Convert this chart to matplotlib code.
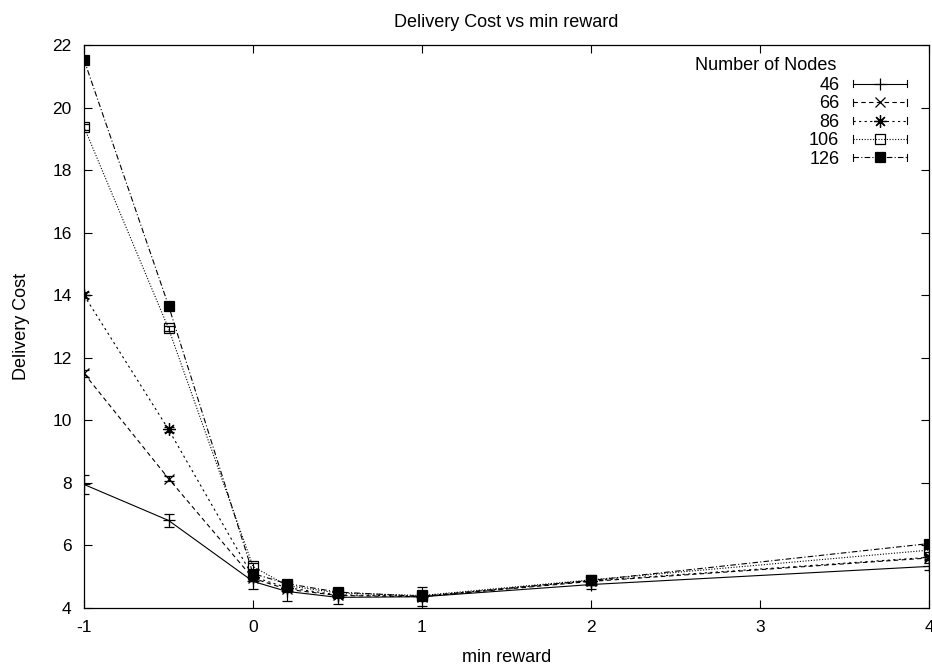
import numpy as np
import matplotlib.pyplot as plt
from matplotlib.lines import Line2D
from matplotlib.legend_handler import HandlerLine2D

plt.rcParams['font.family'] = ['Liberation Sans', 'DejaVu Sans']
plt.rcParams['axes.unicode_minus'] = False

min_reward = [-1, -0.5, 0, 0.2, 0.5, 1, 2, 4]
nodes = ['46', '66', '86', '106', '126']

cost_46 = [7.95, 6.8, 4.85, 4.53, 4.34, 4.36, 4.75, 5.33]
cost_66 = [11.5, 8.14, 4.95, 4.6, 4.4, 4.36, 4.85, 5.6]
cost_86 = [14.0, 9.71, 5.0, 4.65, 4.42, 4.38, 4.87, 5.62]
cost_106 = [19.38, 12.94, 5.33, 4.72, 4.48, 4.4, 4.9, 5.85]
cost_126 = [21.53, 13.67, 5.1, 4.78, 4.51, 4.37, 4.88, 6.06]

err_46 = [0.3, 0.2, 0.25, 0.3, 0.22, 0.3, 0.15, 0.1]
err_66 = [0.1, 0.08, 0.1, 0.08, 0.06, 0.06, 0.06, 0.06]
err_86 = [0.1, 0.08, 0.1, 0.08, 0.06, 0.06, 0.06, 0.06]
err_106 = [0.1, 0.08, 0.1, 0.08, 0.06, 0.06, 0.06, 0.06]
err_126 = [0.1, 0.08, 0.1, 0.08, 0.06, 0.06, 0.06, 0.06]

costs = [cost_46, cost_66, cost_86, cost_106, cost_126]
errs = [err_46, err_66, err_86, err_106, err_126]

styles = [
    dict(ls='-', marker='+', ms=9, mfc='black'),
    dict(ls=(0, (4, 3)), marker='x', ms=7, mfc='black'),
    dict(ls=(0, (2, 3)), marker=(8, 2, 0), ms=9, mfc='black'),
    dict(ls=(0, (1, 1.5)), marker='s', ms=6.5, mfc='none'),
    dict(ls=(0, (5, 2, 1, 2)), marker='s', ms=7, mfc='black'),
]


class CappedLine(HandlerLine2D):
    # legend sample with small end caps, like an errorbar key
    def create_artists(self, legend, orig_handle, xdescent, ydescent,
                       width, height, fontsize, trans):
        artists = list(super().create_artists(legend, orig_handle, xdescent,
                                              ydescent, width, height,
                                              fontsize, trans))
        yc = (height - ydescent) / 2
        h = 0.28 * height
        for x in (-xdescent, -xdescent + width):
            artists.append(Line2D([x, x], [yc - h, yc + h], color='black',
                                  lw=0.8, transform=trans))
        return artists


fig = plt.figure(figsize=(9.32, 6.69), dpi=100)
ax = fig.add_axes([84 / 932, 1 - 608 / 669, 845 / 932, 563 / 669])

handles = []
for lab, y, e, st in zip(nodes, costs, errs, styles):
    ax.errorbar(min_reward, y, yerr=e, color='black', lw=0.8, elinewidth=0.8,
                capsize=3.5, capthick=0.8, mew=0.9, **st)
    handles.append(Line2D([], [], color='black', lw=0.8, mew=0.9, label=lab, **st))

ax.set_xlim(-1, 4)
ax.set_ylim(4, 22)
ax.set_xticks([-1, 0, 1, 2, 3, 4])
ax.set_yticks(np.arange(4, 23, 2))
ax.tick_params(direction='in', top=True, right=True, length=6, width=0.8,
               labelsize=12.5, pad=9)
for s in ax.spines.values():
    s.set_linewidth(0.9)

ax.set_title('Delivery Cost vs min reward', fontsize=13, pad=13)
ax.set_xlabel('min reward', fontsize=13, labelpad=10)
ax.set_ylabel('Delivery Cost', fontsize=13, labelpad=16)

fig.text(695 / 932, 1 - 66 / 669, 'Number of Nodes', fontsize=13,
         ha='left', va='center')
fig.legend(handles=handles, loc='upper right', markerfirst=False, frameon=False,
           bbox_to_anchor=(907 / 932, 1 - 77 / 669), borderpad=0,
           borderaxespad=0, fontsize=13, handlelength=3.0, handletextpad=0.75,
           labelspacing=0.08, handler_map={Line2D: CappedLine()})

fig.savefig('out.png', dpi=100)
